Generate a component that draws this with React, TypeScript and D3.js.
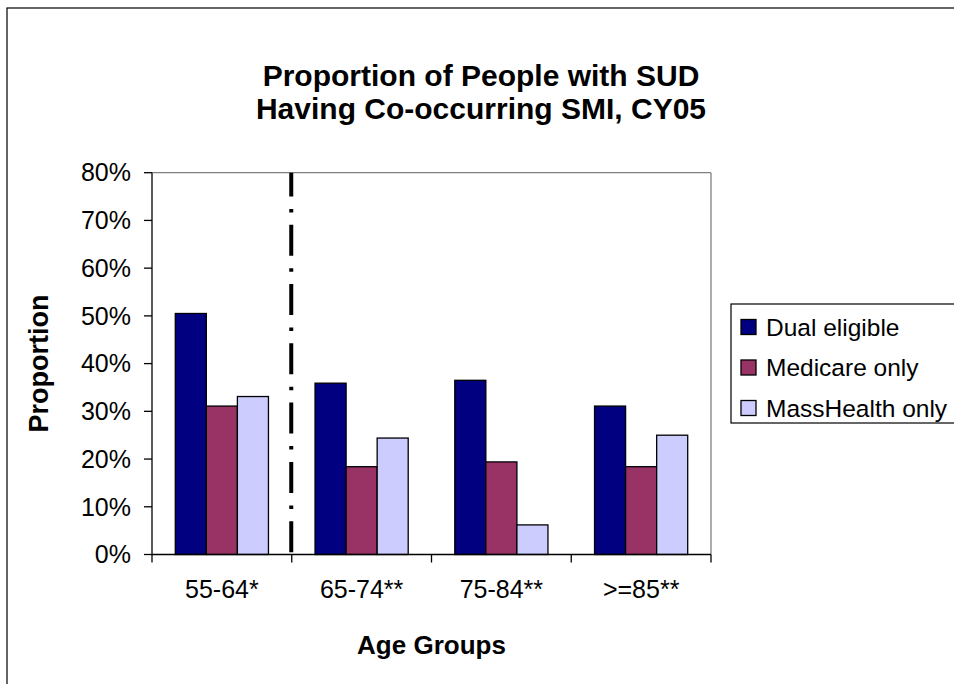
import React from "react";
import * as d3 from "d3";

const categories = ["55-64*", "65-74**", "75-84**", ">=85**"];
const seriesNames = ["Dual eligible", "Medicare only", "MassHealth only"];
const dualEligible = [0.505, 0.359, 0.365, 0.311];
const medicareOnly = [0.311, 0.184, 0.194, 0.184];
const massHealthOnly = [0.331, 0.244, 0.062, 0.25];
const yTicks = [0, 0.1, 0.2, 0.3, 0.4, 0.5, 0.6, 0.7, 0.8];
const colors = ["#000080", "#993366", "#CCCCFF"];
const titleLines = ["Proportion of People with SUD", "Having Co-occurring SMI, CY05"];

export default function App() {
  const W = 954, H = 684;
  const left = 152, right = 711, top = 172.7, bottom = 554.5;
  const series = [dualEligible, medicareOnly, massHealthOnly];

  const x = d3.scaleBand<string>().domain(categories).range([left, right]).paddingInner(0).paddingOuter(0);
  const inner = d3.scaleBand<number>().domain([0, 1, 2]).range([0, x.bandwidth()]).paddingInner(0).paddingOuter(0.75);
  const y = d3.scaleLinear().domain([0, 0.8]).range([bottom, top]);
  const fmt = d3.format(".0%");
  const font = "'Liberation Sans', Arial, sans-serif";

  const boundaries = d3.range(categories.length + 1).map((i) => left + i * x.bandwidth());
  const divX = left + x.bandwidth();

  return (
    <svg width={W} height={H} style={{ position: "absolute", left: 0, top: 0, background: "#fff" }} fontFamily={font}>
      <rect x={0} y={0} width={W} height={H} fill="#fff" />
      <rect x={7} y={8} width={W + 20} height={H + 20} fill="none" stroke="#000" strokeWidth={1.2} />
      {titleLines.map((t, i) => (
        <text key={t} x={481} y={86 + i * 33} textAnchor="middle" fontWeight="bold" fontSize={30}>{t}</text>
      ))}
      {/* plot frame */}
      <line x1={left} x2={right} y1={top} y2={top} stroke="#808080" strokeWidth={1.3} />
      <line x1={right} x2={right} y1={top} y2={bottom} stroke="#808080" strokeWidth={1.3} />
      {/* bars */}
      {series.map((vals, si) =>
        vals.map((v, ci) => (
          <rect
            key={`${si}-${ci}`}
            x={(x(categories[ci]) as number) + (inner(si) as number)}
            y={y(v)}
            width={inner.bandwidth()}
            height={bottom - y(v)}
            fill={colors[si]}
            stroke="#000"
            strokeWidth={1.3}
          />
        ))
      )}
      {/* axes */}
      <line x1={left} x2={left} y1={top} y2={bottom} stroke="#000" strokeWidth={1.3} />
      <line x1={left} x2={right} y1={bottom} y2={bottom} stroke="#000" strokeWidth={1.3} />
      {yTicks.map((t) => (
        <g key={t}>
          <line x1={left - 8} x2={left} y1={y(t)} y2={y(t)} stroke="#000" strokeWidth={1.3} />
          <text x={131} y={y(t)} dy="0.35em" textAnchor="end" fontSize={25}>{fmt(t)}</text>
        </g>
      ))}
      {boundaries.map((b) => (
        <line key={b} x1={b} x2={b} y1={bottom} y2={bottom + 8} stroke="#000" strokeWidth={1.3} />
      ))}
      {categories.map((c) => (
        <text key={c} x={(x(c) as number) + x.bandwidth() / 2} y={598} textAnchor="middle" fontSize={25}>{c}</text>
      ))}
      {/* divider */}
      <line x1={divX - 0.5} x2={divX - 0.5} y1={top} y2={bottom + 2} stroke="#000" strokeWidth={4}
        strokeDasharray="31 12.5 3.5 12.3" strokeDashoffset={7.3} />
      {/* axis titles */}
      <text x={(left + right) / 2} y={654} textAnchor="middle" fontWeight="bold" fontSize={26}>Age Groups</text>
      <text transform={`translate(48,${(top + bottom) / 2}) rotate(-90)`} textAnchor="middle" fontWeight="bold" fontSize={27}>Proportion</text>
      {/* legend */}
      <rect x={731} y={304} width={240} height={119} fill="#fff" stroke="#000" strokeWidth={1.2} />
      {seriesNames.map((n, i) => (
        <g key={n}>
          <rect x={741} y={327 + i * 40.5 - 7.5} width={15} height={15} fill={colors[i]} stroke="#000" strokeWidth={1.3} />
          <text x={766} y={327 + i * 40.5} dy="0.35em" fontSize={24.5}>{n}</text>
        </g>
      ))}
    </svg>
  );
}
